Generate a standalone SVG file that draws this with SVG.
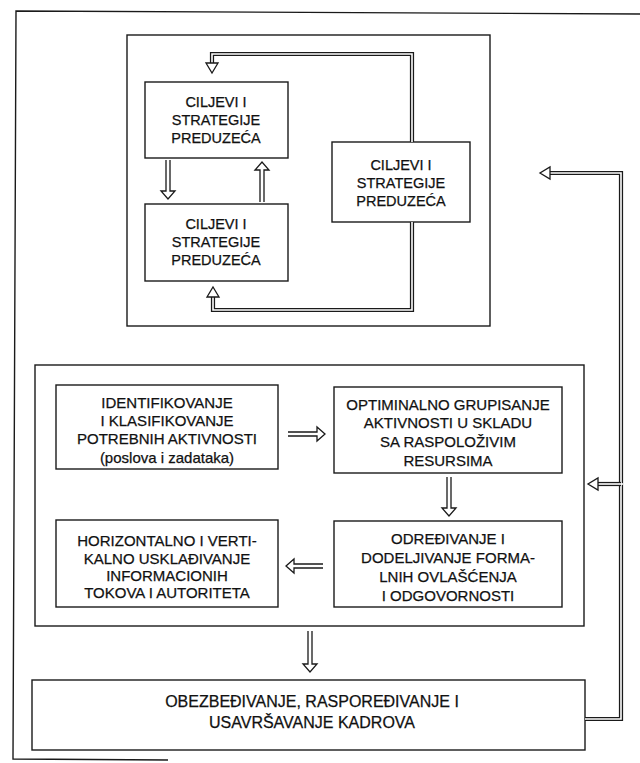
<svg xmlns="http://www.w3.org/2000/svg" width="640" height="763" viewBox="0 0 640 763">
<style>
.frame{fill:none;stroke:#1a1a1a;stroke-width:1.4}
.box{fill:#fff;stroke:#1a1a1a;stroke-width:1.4}
.t{font-family:"Liberation Sans",Arial,sans-serif;font-size:14.5px;fill:#111;stroke:#111;stroke-width:0.25;text-anchor:middle}
.m{font-size:15px}
.b{font-size:16px}
.dbo{fill:none;stroke:#1a1a1a;stroke-width:4.2}
.dbi{fill:none;stroke:#fff;stroke-width:1.6}
.arr{fill:#fff;stroke:#1a1a1a;stroke-width:1.3;stroke-linejoin:miter}
</style>
<rect width="640" height="763" fill="#fff"/>
<g id="outer-frame">
<path class="frame" d="M640,14 L16,11 L13,759 L168,760"/>
</g>
<g id="top-container"><rect class="frame" x="127" y="35" width="363" height="291"/></g>
<g id="box-ciljevi-1"><rect class="box" x="145" y="82" width="143" height="76"/>
<text class="t" x="216" y="107">CILJEVI I</text><text class="t" x="216" y="125">STRATEGIJE</text><text class="t" x="216" y="143">PREDUZEĆA</text></g>
<g id="box-ciljevi-2"><rect class="box" x="145" y="204" width="143" height="77"/>
<text class="t" x="216" y="229">CILJEVI I</text><text class="t" x="216" y="247">STRATEGIJE</text><text class="t" x="216" y="265">PREDUZEĆA</text></g>
<g id="box-ciljevi-3"><rect class="box" x="332" y="142" width="138" height="80"/>
<text class="t" x="401" y="170">CILJEVI I</text><text class="t" x="401" y="188">STRATEGIJE</text><text class="t" x="401" y="206">PREDUZEĆA</text></g>
<g id="middle-container"><rect class="frame" x="35" y="365" width="549" height="261"/></g>
<g id="box-identifikovanje"><rect class="box" x="56" y="385" width="222" height="84"/>
<text class="t m" x="167" y="408">IDENTIFIKOVANJE</text><text class="t m" x="167" y="426">I KLASIFIKOVANJE</text><text class="t m" x="167" y="444">POTREBNIH AKTIVNOSTI</text><text class="t m" x="167" y="463">(poslova i zadataka)</text></g>
<g id="box-optiminalno"><rect class="box" x="334" y="387" width="228" height="86"/>
<text class="t m" x="448" y="410">OPTIMINALNO GRUPISANJE</text><text class="t m" x="448" y="428">AKTIVNOSTI U SKLADU</text><text class="t m" x="448" y="447">SA RASPOLOŽIVIM</text><text class="t m" x="448" y="466">RESURSIMA</text></g>
<g id="box-odredjivanje"><rect class="box" x="334" y="521" width="228" height="86"/>
<text class="t m" x="448" y="544">ODREĐIVANJE I</text><text class="t m" x="448" y="563">DODELJIVANJE FORMA-</text><text class="t m" x="448" y="582">LNIH OVLAŠĆENJA</text><text class="t m" x="448" y="601">I ODGOVORNOSTI</text></g>
<g id="box-horizontalno"><rect class="box" x="56" y="520" width="222" height="87"/>
<text class="t m" x="167" y="546">HORIZONTALNO I VERTI-</text><text class="t m" x="167" y="564">KALNO USKLAĐIVANJE</text><text class="t m" x="167" y="581">INFORMACIONIH</text><text class="t m" x="167" y="598">TOKOVA I AUTORITETA</text></g>
<g id="box-obezbedjivanje"><rect class="box" x="32" y="680" width="553" height="70"/>
<text class="t b" x="312" y="707">OBEZBEĐIVANJE, RASPOREĐIVANJE I</text><text class="t b" x="312" y="728">USAVRŠAVANJE KADROVA</text></g>
<g id="connectors">
<path class="arr" d="M166,160 V191 H161 L168,199 L175,191 H170 V160"/>
<path class="arr" d="M264,202 V170 H269 L262,162 L255,170 H260 V202"/>
<path class="dbo" d="M212,64 V54 H412 V142"/><path class="dbi" d="M212,64 V54 H412 V142"/>
<path class="arr" d="M206,63 H218 L212,73 Z"/>
<path class="dbo" d="M412,222 V310 H213 V297"/><path class="dbi" d="M412,222 V310 H213 V297"/>
<path class="arr" d="M207,297 H219 L213,287 Z"/>
<path class="arr" d="M288,432 H317 V427 L325,434 L317,441 V436 H288"/>
<path class="arr" d="M447,477 V508 H442 L449,516 L456,508 H451 V477"/>
<path class="arr" d="M323,564 H294 V559 L286,566 L294,573 V568 H323"/>
<path class="arr" d="M308,631 V664 H303 L310,672 L317,664 H312 V631"/>
<path class="dbo" d="M585,719 H621 V173 H549"/><path class="dbi" d="M585,719 H621 V173 H549"/>
<path class="arr" d="M550,167 V179 L540,173 Z"/>
<path class="dbo" d="M621,484 H598"/><path class="dbi" d="M623,484 H598"/>
<path class="arr" d="M598,478 V490 L588,484 Z"/>
</g>
</svg>
